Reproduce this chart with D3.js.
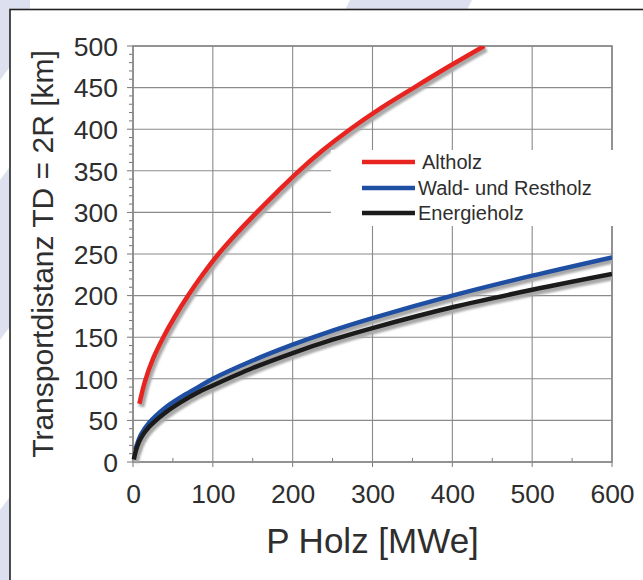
<!DOCTYPE html>
<html>
<head>
<meta charset="utf-8">
<script src="https://cdn.jsdelivr.net/npm/d3@7"></script>
<style>
  body { margin: 0; background: #fff; }
  svg { display: block; font-family: "Liberation Sans", Arial, sans-serif; }
</style>
</head>
<body>
<svg width="643" height="580"></svg>
<script>
const svg = d3.select('svg');

// data
const altholz = [[8, 70], [15, 97], [25, 124], [38, 150], [52, 174], [69, 200], [87, 225], [107, 250],
  [130, 275], [155, 300], [181, 325], [208, 350], [238, 375], [272, 400], [310, 425], [352, 450],
  [395, 475], [440, 500]];
const waldRestholz = [[3, 15], [10, 33], [20, 47], [40, 65], [60, 78], [80, 89], [100, 100],
  [150, 122], [200, 141], [250, 158], [300, 173], [400, 200], [500, 224], [600, 246]];
const energieholz = [[1, 3], [5, 18], [10, 29], [20, 42], [40, 59], [60, 72], [80, 83], [100, 92],
  [150, 113], [200, 131], [250, 147], [300, 161], [400, 186], [500, 207], [600, 226]];

const seriesNames = ['Altholz', 'Wald- und Restholz', 'Energieholz'];
const seriesColors = ['#e82420', '#1f4fa3', '#1b1b1b'];
const xTicks = [0, 100, 200, 300, 400, 500, 600];
const yTicks = [0, 50, 100, 150, 200, 250, 300, 350, 400, 450, 500];

const series = [altholz, waldRestholz, energieholz];

// background decoration
const bg = svg.append('g').attr('fill', '#dde0ee');
bg.append('polygon').attr('points', '330,40 350,0 472,0 452,40');
bg.append('polygon').attr('points', '0,0 30,0 30,40 0,80');
bg.append('polygon').attr('points', '0,180 30,140 30,300 0,340');
bg.append('polygon').attr('points', '0,510 30,470 30,580 0,580');

// panel
svg.append('rect')
    .attr('x', 10).attr('y', 9.5)
    .attr('width', 700).attr('height', 700)
    .attr('fill', '#fff')
    .attr('stroke', '#222')
    .attr('stroke-width', 1.6);

const x = d3.scaleLinear().domain([0, 600]).range([133, 612]);
const y = d3.scaleLinear().domain([0, 500]).range([462, 46]);

const plot = svg.append('g');

// grid
plot.append('g')
    .selectAll('line').data(xTicks).join('line')
    .attr('x1', d => x(d)).attr('x2', d => x(d))
    .attr('y1', y(0)).attr('y2', y(500))
    .attr('stroke', '#8a8a8a').attr('stroke-width', 1.1);
plot.append('g')
    .selectAll('line').data(yTicks).join('line')
    .attr('x1', x(0)).attr('x2', x(600))
    .attr('y1', d => y(d)).attr('y2', d => y(d))
    .attr('stroke', '#8a8a8a').attr('stroke-width', 1.1);

// ticks
plot.append('g')
    .selectAll('line').data(d3.range(0, 501, 10)).join('line')
    .attr('x1', x(0)).attr('x2', d => x(0) - (d % 50 === 0 ? 6 : 4))
    .attr('y1', d => y(d)).attr('y2', d => y(d))
    .attr('stroke', '#777').attr('stroke-width', 1);
plot.append('g')
    .selectAll('line').data(d3.range(50, 600, 100)).join('line')
    .attr('x1', d => x(d)).attr('x2', d => x(d))
    .attr('y1', y(0)).attr('y2', y(0) - 4)
    .attr('stroke', '#777').attr('stroke-width', 1);
plot.append('g')
    .selectAll('line').data(xTicks).join('line')
    .attr('x1', d => x(d)).attr('x2', d => x(d))
    .attr('y1', y(0)).attr('y2', y(0) + 5)
    .attr('stroke', '#777').attr('stroke-width', 1);

// frame
plot.append('rect')
    .attr('x', x(0)).attr('y', y(500))
    .attr('width', x(600) - x(0)).attr('height', y(0) - y(500))
    .attr('fill', 'none').attr('stroke', '#888').attr('stroke-width', 1.6);

// tick labels via d3 axes (lines hidden)
const xAxis = svg.append('g')
    .attr('transform', `translate(0,${y(0)})`)
    .call(d3.axisBottom(x).tickValues(xTicks).tickSize(0).tickPadding(22));
const yAxis = svg.append('g')
    .attr('transform', `translate(${x(0)},0)`)
    .call(d3.axisLeft(y).tickValues(yTicks).tickSize(0).tickPadding(15));
[xAxis, yAxis].forEach(a => {
    a.select('.domain').remove();
    a.selectAll('text')
        .attr('font-family', '"Liberation Sans", Arial, sans-serif')
        .attr('font-size', 26.5)
        .attr('fill', '#2e2e2e');
});
yAxis.selectAll('text').attr('dy', '0.35em');

// curves
const line = d3.line()
    .x(d => x(d[0]))
    .y(d => y(d[1]))
    .curve(d3.curveCatmullRom);

const defs = svg.append('defs');
defs.append('filter').attr('id', 'blur')
    .append('feGaussianBlur').attr('stdDeviation', 1.2);
defs.append('clipPath').attr('id', 'clip')
    .append('rect')
    .attr('x', x(0) - 10).attr('y', y(500))
    .attr('width', x(600) - x(0) + 10).attr('height', y(0) - y(500) + 10);

const curves = svg.append('g').attr('clip-path', 'url(#clip)');
series.forEach(s => {
    curves.append('path')
        .datum(s)
        .attr('d', line)
        .attr('transform', 'translate(2,3)')
        .attr('fill', 'none')
        .attr('stroke', '#a8a8a8')
        .attr('stroke-width', 6)
        .attr('filter', 'url(#blur)');
});
series.forEach((s, i) => {
    curves.append('path')
        .datum(s)
        .attr('d', line)
        .attr('fill', 'none')
        .attr('stroke', seriesColors[i])
        .attr('stroke-width', 4.5);
});

// legend
const legend = svg.append('g');
legend.append('rect')
    .attr('x', 331).attr('y', 150)
    .attr('width', 285).attr('height', 76)
    .attr('fill', '#fff');
const legendY = [162, 188, 213];
const legendTextX = [422, 418, 418];
seriesNames.forEach((name, i) => {
    legend.append('line')
        .attr('x1', 362).attr('x2', 415)
        .attr('y1', legendY[i]).attr('y2', legendY[i])
        .attr('stroke', seriesColors[i])
        .attr('stroke-width', 4.5);
    legend.append('text')
        .attr('x', legendTextX[i]).attr('y', legendY[i])
        .attr('dy', '0.35em')
        .attr('font-size', 20)
        .attr('fill', '#2e2e2e')
        .text(name);
});

// axis titles
svg.append('text')
    .attr('x', (x(0) + x(600)) / 2).attr('y', 553)
    .attr('text-anchor', 'middle')
    .attr('font-size', 35)
    .attr('fill', '#2e2e2e')
    .text('P Holz [MWe]');
svg.append('text')
    .attr('transform', `translate(53,${(y(0) + y(500)) / 2}) rotate(-90)`)
    .attr('text-anchor', 'middle')
    .attr('font-size', 30)
    .attr('fill', '#2e2e2e')
    .text('Transportdistanz TD = 2R [km]');
</script>
</body>
</html>
